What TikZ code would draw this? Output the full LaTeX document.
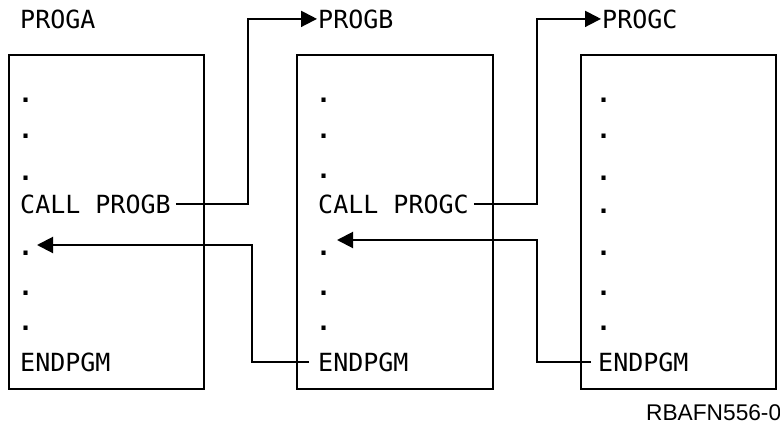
\documentclass[tikz,border=0pt]{standalone}
\usepackage{fontspec}
\newfontfamily\codefont{DejaVu Sans Mono}
\newfontfamily\tagfont{Liberation Sans}
\usetikzlibrary{arrows.meta}
\tikzset{
 prog/.style={draw, line width=2pt, anchor=north west, inner sep=0pt, minimum height=334pt},
 code/.style={anchor=base west, inner sep=1pt, font=\codefont\fontsize{25}{30}\selectfont},
 dot/.style={code, font=\codefont\bfseries\fontsize{25}{30}\selectfont},
 flow/.style={line width=2pt, -{Triangle[length=16pt,width=16pt]}},
}
\begin{document}
\begin{tikzpicture}[x=1pt,y=-1pt]
\useasboundingbox (0,0) rectangle (780,426);

\node[prog, minimum width=195pt] (boxa) at (8,54) {};
\node[prog, minimum width=196pt] (boxb) at (296,54) {};
\node[prog, minimum width=195pt] (boxc) at (580,54) {};

\node[code] (proga) at (19,28) {PROGA};
\node[code] (progb) at (317,28) {PROGB};
\node[code] (progc) at (601,28) {PROGC};

% PROGA
\node[dot] (a1) at (17,102) {.};
\node[dot] (a2) at (17,138) {.};
\node[dot] (a3) at (17,180) {.};
\node[code] (acall) at (19,213) {CALL PROGB};
\node[dot] (a4) at (17,255) {.};
\node[dot] (a5) at (17,295) {.};
\node[dot] (a6) at (17,330) {.};
\node[code] (aend) at (19,371) {ENDPGM};

% PROGB
\node[dot] (b1) at (315,102) {.};
\node[dot] (b2) at (315,138) {.};
\node[dot] (b3) at (315,178) {.};
\node[code] (bcall) at (317,213) {CALL PROGC};
\node[dot] (b4) at (315,255) {.};
\node[dot] (b5) at (315,295) {.};
\node[dot] (b6) at (315,330) {.};
\node[code] (bend) at (317,371) {ENDPGM};

% PROGC
\node[dot] (c1) at (595,102) {.};
\node[dot] (c2) at (595,138) {.};
\node[dot] (c3) at (595,180) {.};
\node[dot] (c4) at (595,213) {.};
\node[dot] (c5) at (595,255) {.};
\node[dot] (c6) at (595,295) {.};
\node[dot] (c7) at (595,330) {.};
\node[code] (cend) at (597,371) {ENDPGM};

\node[anchor=base west, inner sep=0pt, font=\tagfont\fontsize{22.7}{26}\selectfont] (figid) at (646,420) {RBAFN556-0};

\coordinate (ajog) at (248,0);
\coordinate (bjog) at (537,0);
\coordinate (aret) at (37,245);
\coordinate (bret) at (337,240);
\coordinate (ajog2) at (252,0);

\draw[flow, shorten <=4pt] (acall.east) -- (acall.east -| ajog) |- (progb.west);
\draw[flow, shorten <=4pt] (bcall.east) -- (bcall.east -| bjog) |- (progc.west);
\draw[flow, shorten <=8pt] (bend.west) -- (bend.west -| ajog2) |- (aret);
\draw[flow, shorten <=6pt] (cend.west) -- (cend.west -| bjog) |- (bret);

\end{tikzpicture}
\end{document}
